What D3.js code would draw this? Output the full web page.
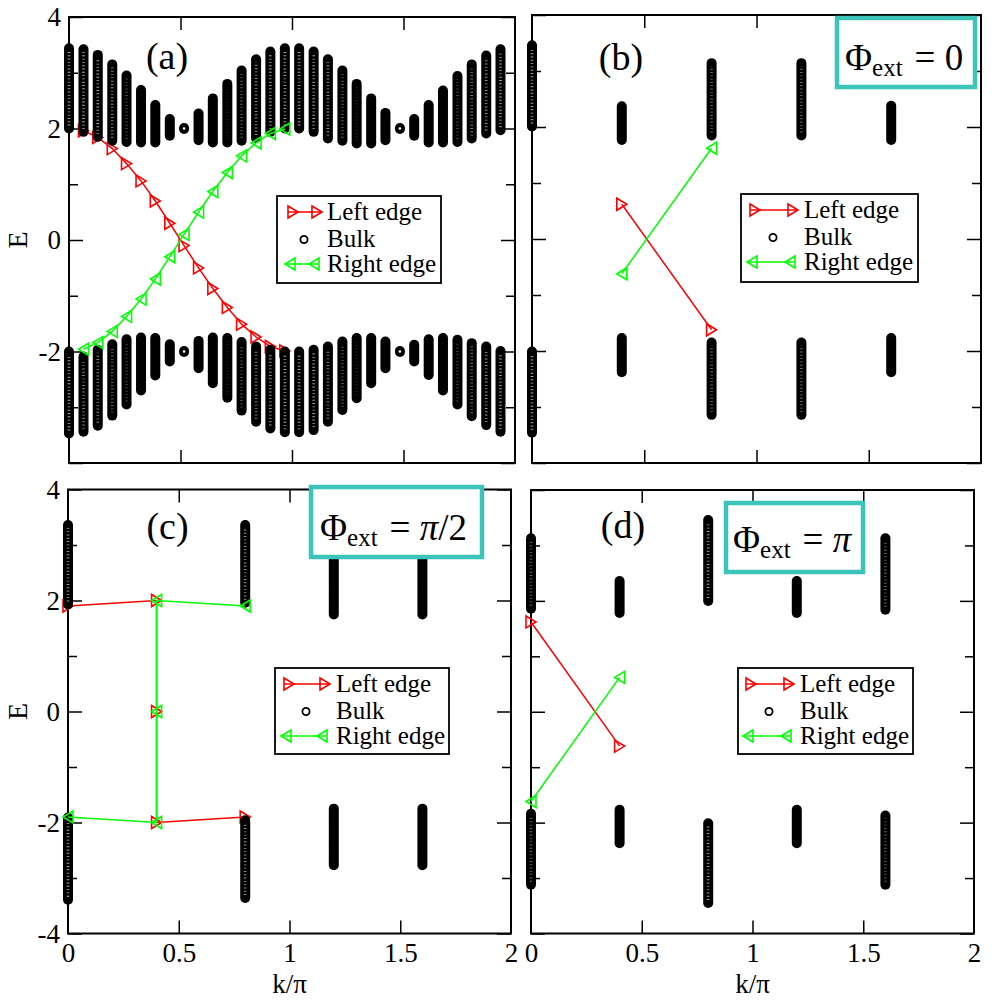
<!DOCTYPE html>
<html>
<head>
<meta charset="utf-8">
<script src="https://cdn.jsdelivr.net/npm/d3@7"></script>
<style>
  body { margin: 0; background: #fff; }
  svg { display: block; }
  text { font-family: "Liberation Serif", "Times New Roman", serif; fill: #000; }
</style>
</head>
<body>
<div id="canvas"></div>
<script>
// ---- data ----
// panel (a): 31 k points, k/pi
const kA = [0, 0.065, 0.129, 0.194, 0.258, 0.323, 0.387, 0.452, 0.516, 0.581, 0.645,
  0.710, 0.774, 0.839, 0.903, 0.968, 1.032, 1.097, 1.161, 1.226, 1.290, 1.355, 1.419,
  1.484, 1.548, 1.613, 1.677, 1.742, 1.806, 1.871, 1.935]
// upper / lower bulk band per k: [lowest E, highest E]
const upperA = [[2.00, 3.44], [1.94, 3.42], [1.85, 3.32], [1.78, 3.15], [1.76, 2.95],
  [1.75, 2.69], [1.75, 2.42], [1.87, 2.17], [1.99, 2.01], [1.79, 2.27], [1.75, 2.54],
  [1.75, 2.80], [1.78, 3.04], [1.83, 3.24], [1.94, 3.38], [2.00, 3.44], [2.00, 3.44],
  [1.94, 3.38], [1.82, 3.24], [1.78, 3.04], [1.73, 2.80], [1.73, 2.54], [1.79, 2.28],
  [1.99, 2.01], [1.87, 2.17], [1.75, 2.42], [1.75, 2.68], [1.76, 2.94], [1.82, 3.15],
  [1.91, 3.31], [1.97, 3.42]]
const lowerA = [[-3.47, -2.00], [-3.44, -2.09], [-3.33, -1.97], [-3.15, -1.87], [-2.95, -1.78],
  [-2.70, -1.75], [-2.43, -1.76], [-2.18, -1.87], [-2.01, -1.99], [-2.30, -1.81], [-2.57, -1.75],
  [-2.83, -1.76], [-3.06, -1.83], [-3.26, -1.91], [-3.38, -1.97], [-3.45, -2.00], [-3.45, -2.00],
  [-3.41, -1.97], [-3.26, -1.91], [-3.05, -1.82], [-2.84, -1.76], [-2.57, -1.76], [-2.30, -1.82],
  [-2.01, -1.99], [-2.18, -1.88], [-2.42, -1.78], [-2.70, -1.76], [-2.95, -1.79], [-3.16, -1.85],
  [-3.32, -1.91], [-3.44, -1.99]]
const edgeKA = [0.065, 0.129, 0.194, 0.258, 0.323, 0.387, 0.452, 0.516, 0.581, 0.645,
  0.710, 0.774, 0.839, 0.903, 0.968]
const leftEA = [1.96, 1.84, 1.64, 1.37, 1.06, 0.70, 0.30, -0.10, -0.50, -0.87, -1.21, -1.51, -1.74, -1.91, -1.99]
const rightEA = [-1.96, -1.84, -1.64, -1.37, -1.06, -0.70, -0.30, 0.10, 0.50, 0.87, 1.21, 1.51, 1.74, 1.91, 1.99]

// panel (b): Phi_ext = 0
const kB = [0, 0.4, 0.8, 1.2, 1.6]
const upperB = [[2.01, 3.46], [1.77, 2.37], [1.85, 3.14], [1.85, 3.14], [1.77, 2.38]]
const lowerB = [[-3.46, -2.01], [-2.38, -1.77], [-3.14, -1.85], [-3.14, -1.85], [-2.38, -1.77]]
const edgeKB = [0.4, 0.8]
const leftEB = [0.62, -1.62]
const rightEB = [-0.62, 1.62]

// panel (c): Phi_ext = pi/2
const kC = [0, 0.8, 1.2, 1.6]
const upperC = [[1.93, 3.36], [1.96, 3.36], [1.75, 2.77], [1.75, 2.77]]
const lowerC = [[-3.39, -1.91], [-3.36, -1.96], [-2.77, -1.75], [-2.77, -1.75]]
const edgeKC = [0, 0.4, 0.4, 0.4, 0.8]
const leftEC = [1.9, 2.0, 0, -2.0, -1.9]
const rightEC = [-1.9, -2.0, 0, 2.0, 1.9]

// panel (d): Phi_ext = pi
const kD = [0, 0.4, 0.8, 1.2, 1.6]
const upperD = [[1.86, 3.13], [1.78, 2.36], [2.00, 3.46], [1.78, 2.36], [1.84, 3.13]]
const lowerD = [[-3.12, -1.84], [-2.37, -1.77], [-3.45, -2.01], [-2.37, -1.77], [-3.12, -1.87]]
const edgeKD = [0, 0.4]
const leftED = [1.62, -0.62]
const rightED = [-1.62, 0.62]

// ticks
const yMajor = [-4, -2, 0, 2, 4]
const yMinor = [-3, -1, 1, 3]
const xMajor = [0.5, 1, 1.5]
const xTickLabels = [0, 0.5, 1, 1.5, 2]
const yLabelsTop = [-2, 0, 2, 4]
const yLabelsBottom = [-4, -2, 0, 2, 4]
const legendNames = ['Left edge', 'Bulk', 'Right edge']

// ---- layout ----
const RED = '#ff0000'
const GREEN = '#00ff00'
const TEAL = '#3cc4b8'
const FONT = 'Liberation Serif, Times New Roman, serif'

const panels = [
  { tag: '(a)', tagX: 167, tagY: 68.5, x0: 69, x1: 515, y0: 17, y1: 463,
    k: kA, up: upperA, low: lowerA, ek: edgeKA, le: leftEA, re: rightEA,
    yLab: yLabelsTop, xLab: false,
    legend: { x: 277, y: 196, w: 164, h: 87, s0: 288, s1: 322, tx: 327 }, box: null },
  { tag: '(b)', tagX: 621, tagY: 70, x0: 532, x1: 981, y0: 15, y1: 463,
    k: kB, up: upperB, low: lowerB, ek: edgeKB, le: leftEB, re: rightEB,
    yLab: null, xLab: false,
    legend: { x: 741, y: 194, w: 177, h: 88, s0: 750, s1: 798, tx: 804 },
    box: { x: 837, y: 18, w: 138, h: 69, tx: 845, ty: 70, rhs: [['= 0', false]] } },
  { tag: '(c)', tagX: 167.5, tagY: 539, x0: 68, x1: 511, y0: 489.5, y1: 933.5,
    k: kC, up: upperC, low: lowerC, ek: edgeKC, le: leftEC, re: rightEC,
    yLab: yLabelsBottom, xLab: true,
    legend: { x: 275, y: 668, w: 174, h: 86, s0: 284, s1: 330, tx: 336 },
    box: { x: 311, y: 487, w: 171, h: 70, tx: 320, ty: 540, rhs: [['= ', false], ['π', true], ['/2', false]] } },
  { tag: '(d)', tagX: 623, tagY: 538, x0: 531, x1: 974, y0: 490, y1: 933.5,
    k: kD, up: upperD, low: lowerD, ek: edgeKD, le: leftED, re: rightED,
    yLab: null, xLab: true,
    legend: { x: 738, y: 668, w: 175, h: 86, s0: 746, s1: 794, tx: 800 },
    box: { x: 726, y: 503, w: 137, h: 69, tx: 733, ty: 551.5, rhs: [['= ', false], ['π', true]] } },
]

const triRight = 'M-5,-6L5,0L-5,6Z'
const triLeft = 'M5,-6L-5,0L5,6Z'

const svg = d3.select('#canvas').append('svg').attr('width', 996).attr('height', 1002)

function styleAxis(s) {
  s.select('.domain').remove()
  s.selectAll('line').attr('stroke-width', 1.5)
  s.attr('font-family', FONT).attr('font-size', 27)
  s.selectAll('text').attr('font-family', FONT)
}

function drawEdge(g, x, y, ks, es, color, sym) {
  const pts = ks.map((k, i) => [k, es[i]])
  g.append('path')
    .datum(pts)
    .attr('d', d3.line().x((d) => x(d[0])).y((d) => y(d[1])))
    .attr('fill', 'none')
    .attr('stroke', color)
    .attr('stroke-width', 1.5)
  g.selectAll(null)
    .data(pts)
    .enter()
    .append('path')
    .attr('d', sym)
    .attr('transform', (d) => `translate(${x(d[0])},${y(d[1])})`)
    .attr('fill', 'none')
    .attr('stroke', color)
    .attr('stroke-width', 1.6)
}

panels.forEach((p) => {
  const x = d3.scaleLinear().domain([0, 2]).range([p.x0, p.x1])
  const y = d3.scaleLinear().domain([-4, 4]).range([p.y1, p.y0])
  const g = svg.append('g').attr('font-family', FONT)

  // frame
  g.append('rect')
    .attr('x', p.x0).attr('y', p.y0)
    .attr('width', p.x1 - p.x0).attr('height', p.y1 - p.y0)
    .attr('fill', 'none').attr('stroke', '#000').attr('stroke-width', 2)

  // inward ticks on all four sides
  const axes = [
    [d3.axisLeft(y).tickValues(yMajor).tickSize(-14), `translate(${p.x0},0)`],
    [d3.axisLeft(y).tickValues(yMinor).tickSize(-9), `translate(${p.x0},0)`],
    [d3.axisRight(y).tickValues(yMajor).tickSize(-14), `translate(${p.x1},0)`],
    [d3.axisRight(y).tickValues(yMinor).tickSize(-9), `translate(${p.x1},0)`],
    [d3.axisBottom(x).tickValues(xMajor).tickSize(-13), `translate(0,${p.y1})`],
    [d3.axisTop(x).tickValues(xMajor).tickSize(-13), `translate(0,${p.y0})`],
  ]
  axes.forEach(([ax, tr]) => {
    g.append('g').attr('transform', tr).call(ax.tickFormat(() => '')).call(styleAxis)
  })
  if (p.yLab) {
    g.append('g').attr('transform', `translate(${p.x0},0)`)
      .call(d3.axisLeft(y).tickValues(p.yLab).tickSize(0).tickPadding(8).tickFormat((d) => String(d)))
      .call(styleAxis)
    g.append('text')
      .attr('transform', `translate(27,${(p.y0 + p.y1) / 2}) rotate(-90)`)
      .attr('text-anchor', 'middle')
      .attr('font-size', 28)
      .text('E')
  }
  if (p.xLab) {
    g.append('g').attr('transform', `translate(0,${p.y1})`)
      .call(d3.axisBottom(x).tickValues(xTickLabels).tickSize(0).tickPadding(9).tickFormat((d) => String(d)))
      .call(styleAxis)
    g.append('text')
      .attr('x', (p.x0 + p.x1) / 2).attr('y', 993)
      .attr('text-anchor', 'middle')
      .attr('font-size', 27)
      .text('k/π')
  }

  // left edge states (drawn under the bulk)
  drawEdge(g, x, y, p.ek, p.le, RED, triRight)

  // bulk bands: thick bars of overlapping open circles
  const bands = []
  p.k.forEach((k, i) => {
    bands.push({ k: k, lo: p.up[i][0], hi: p.up[i][1] })
    bands.push({ k: k, lo: p.low[i][0], hi: p.low[i][1] })
  })
  g.selectAll(null)
    .data(bands)
    .enter()
    .append('line')
    .attr('x1', (d) => x(d.k)).attr('x2', (d) => x(d.k))
    .attr('y1', (d) => y(d.lo)).attr('y2', (d) => y(d.hi))
    .attr('stroke', '#000').attr('stroke-width', 10).attr('stroke-linecap', 'round')
  // faint white speckles inside long (sparse) bands
  g.selectAll(null)
    .data(bands)
    .enter()
    .append('line')
    .attr('x1', (d) => x(d.k)).attr('x2', (d) => x(d.k))
    .attr('y1', (d) => y(d.lo) - 3).attr('y2', (d) => y(d.hi) + 3)
    .attr('stroke', '#fff').attr('stroke-width', 2.6).attr('stroke-dasharray', '0.9 2.4')
    .attr('opacity', (d) => {
      const len = y(d.lo) - y(d.hi)
      return Math.max(0, Math.min(0.7, (len - 55) / 40))
    })
  g.selectAll(null)
    .data(bands.filter((d) => y(d.lo) - y(d.hi) < 4))
    .enter()
    .append('circle')
    .attr('cx', (d) => x(d.k)).attr('cy', (d) => y((d.lo + d.hi) / 2))
    .attr('r', 1.3).attr('fill', '#fff')

  // right edge states (drawn over the bulk)
  drawEdge(g, x, y, p.ek, p.re, GREEN, triLeft)

  // legend
  const L = p.legend
  const lg = g.append('g')
  lg.append('rect')
    .attr('x', L.x).attr('y', L.y).attr('width', L.w).attr('height', L.h)
    .attr('fill', '#fff').attr('stroke', '#000').attr('stroke-width', 1.8)
  const ry = [L.y + 16, L.y + 43.5, L.y + 68]
  // red
  lg.append('line').attr('x1', L.s0).attr('x2', L.s1).attr('y1', ry[0]).attr('y2', ry[0])
    .attr('stroke', RED).attr('stroke-width', 1.5)
  ;[L.s0 + 5, L.s1 - 5].forEach((cx) => {
    lg.append('path').attr('d', triRight).attr('transform', `translate(${cx},${ry[0]})`)
      .attr('fill', 'none').attr('stroke', RED).attr('stroke-width', 1.6)
  })
  // bulk
  lg.append('circle').attr('cx', (L.s0 + L.s1) / 2 - 1).attr('cy', ry[1]).attr('r', 3.6)
    .attr('fill', 'none').attr('stroke', '#000').attr('stroke-width', 1.8)
  // green
  lg.append('line').attr('x1', L.s0 - 3).attr('x2', L.s1 - 3).attr('y1', ry[2]).attr('y2', ry[2])
    .attr('stroke', GREEN).attr('stroke-width', 1.5)
  ;[L.s0 + 2, L.s1 - 8].forEach((cx) => {
    lg.append('path').attr('d', triLeft).attr('transform', `translate(${cx},${ry[2]})`)
      .attr('fill', 'none').attr('stroke', GREEN).attr('stroke-width', 1.6)
  })
  lg.selectAll(null)
    .data(legendNames)
    .enter()
    .append('text')
    .attr('x', L.tx)
    .attr('y', (d, i) => ry[i] + 7.5)
    .attr('font-size', 25)
    .text((d) => d)

  // panel tag
  g.append('text')
    .attr('x', p.tagX).attr('y', p.tagY)
    .attr('text-anchor', 'middle')
    .attr('font-size', 38)
    .text(p.tag)

  // Phi_ext box
  if (p.box) {
    const B = p.box
    g.append('rect')
      .attr('x', B.x).attr('y', B.y).attr('width', B.w).attr('height', B.h)
      .attr('fill', '#fff').attr('stroke', TEAL).attr('stroke-width', 4.5)
    const t = g.append('text').attr('x', B.tx).attr('y', B.ty).attr('font-size', 37)
    t.append('tspan').text('Φ')
    t.append('tspan').attr('font-size', 25).attr('dy', 6).text('ext')
    B.rhs.forEach(([s, it], i) => {
      const ts = t.append('tspan').text(s)
      if (i === 0) ts.attr('dy', -6).attr('dx', 12)
      if (it) ts.attr('font-style', 'italic')
    })
  }
})
</script>
</body>
</html>
